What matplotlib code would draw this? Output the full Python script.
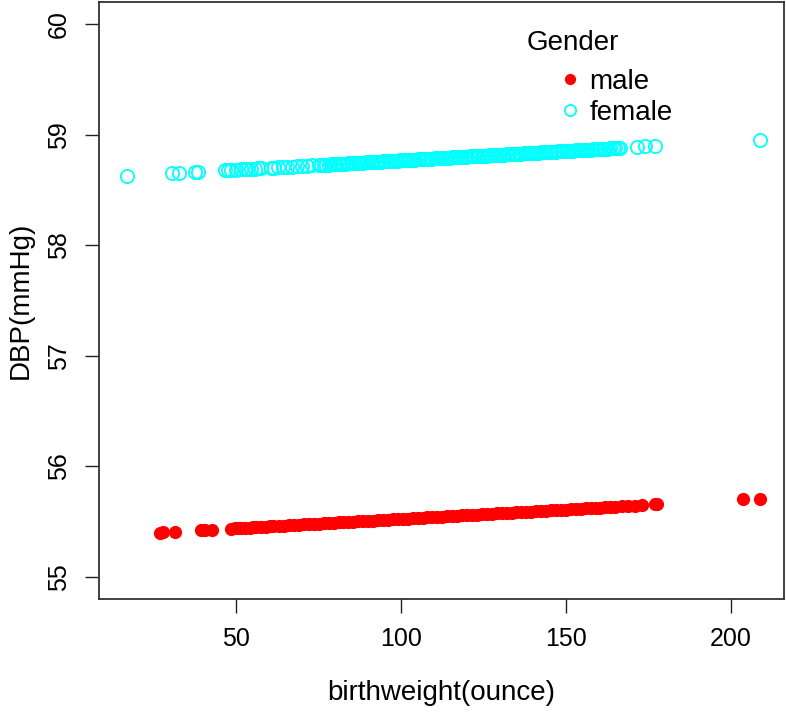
import matplotlib
matplotlib.use("Agg")
import matplotlib.pyplot as plt

# fitted DBP by birthweight, one series per gender
male_x = [26.8, 27.7, 31.3, 39.4, 40.6, 42.5,
          48.5, 49.5, 50.5, 51.5, 52.5, 54, 55, 56, 57.5, 59, 60.2, 61,
          63, 64.5, 66, 67.5, 69, 70.5, 72, 73.5,
          75, 76.5, 78, 79.5, 81, 82.5, 84, 85.5, 87, 88.5, 90, 91.5, 93, 94.5,
          96, 97.5, 99, 100.5, 102, 103.5, 105, 106.5, 108, 109.5, 111, 112.5,
          114, 115.5, 117, 118.5, 120, 121.5, 123, 124.5, 126, 127.5, 129, 130.5,
          132, 133.5, 135, 136.5, 138, 139.5, 141, 142.5, 144, 145.5, 147, 148.5,
          150, 151.5, 153, 154.5, 156, 157.5, 159, 160.5, 162, 163.5, 165,
          167, 169, 171, 173, 177, 177.6, 203.8, 209]
male_y = [55.400, 55.402, 55.408, 55.422, 55.424, 55.427,
          55.437, 55.439, 55.441, 55.442, 55.444, 55.446, 55.448, 55.450, 55.452,
          55.455, 55.457, 55.458,
          55.462, 55.464, 55.467, 55.469, 55.472, 55.474, 55.477, 55.480,
          55.482, 55.485, 55.487, 55.490, 55.492, 55.495, 55.497, 55.500, 55.502,
          55.505, 55.507, 55.510, 55.513, 55.515, 55.518, 55.520, 55.523, 55.525,
          55.528, 55.530, 55.533, 55.535, 55.538, 55.540, 55.543, 55.546, 55.548,
          55.551, 55.553, 55.556, 55.558, 55.561, 55.563, 55.566, 55.568, 55.571,
          55.574, 55.576, 55.579, 55.581, 55.584, 55.586, 55.589, 55.591, 55.594,
          55.596, 55.599, 55.601, 55.604, 55.607, 55.609, 55.612, 55.614, 55.617,
          55.619, 55.622, 55.624, 55.627, 55.629, 55.632, 55.635,
          55.638, 55.641, 55.645, 55.648, 55.655, 55.656, 55.700, 55.709]

female_x = [16.7, 30.6, 32.6, 37.4, 38.4,
            46.5, 47.5, 48.5, 50.0, 51.5, 52.5, 53.2, 54.5, 55.5, 56.5, 57.5,
            60.5, 61.5, 62.5, 64, 65.5, 67, 68.5, 70, 71.5, 73,
            75, 76.5, 78, 79.5, 81, 82.5, 84, 85.5, 87, 88.5, 90, 91.5, 93, 94.5,
            96, 97.5, 99, 100.5, 102, 103.5, 105, 106.5, 108, 109.5, 111, 112.5,
            114, 115.5, 117, 118.5, 120, 121.5, 123, 124.5, 126, 127.5, 129, 130.5,
            132, 133.5, 135, 136.5, 138, 139.5, 141, 142.5, 144, 145.5, 147, 148.5,
            150, 151.5, 153, 154.5, 156, 157.5, 159, 160.5, 162, 163.5, 165, 166.5,
            171.6, 174, 177, 209,
            75.75, 77.25, 78.75, 80.25, 81.75, 83.25, 84.75, 86.25, 87.75, 89.25,
            90.75, 92.25, 93.75, 95.25, 96.75, 98.25, 99.75, 101.25, 102.75, 104.25,
            105.75, 107.25, 108.75, 110.25, 111.75, 113.25, 114.75, 116.25, 117.75,
            119.25, 120.75, 122.25, 123.75, 125.25, 126.75, 128.25, 129.75, 131.25,
            132.75, 134.25, 135.75, 137.25, 138.75, 140.25, 141.75, 143.25, 144.75,
            146.25, 147.75, 149.25, 150.75, 152.25, 153.75, 155.25, 156.75, 158.25,
            159.75, 161.25, 162.75, 164.25, 165.75]
female_y = [58.626, 58.650, 58.653, 58.661, 58.663,
            58.677, 58.678, 58.680, 58.683, 58.685, 58.687, 58.688, 58.690, 58.692,
            58.694, 58.695,
            58.700, 58.702, 58.704, 58.706, 58.709, 58.711, 58.714, 58.717, 58.719,
            58.722,
            58.725, 58.728, 58.730, 58.733, 58.735, 58.738, 58.740, 58.743, 58.745,
            58.748, 58.750, 58.753, 58.756, 58.758, 58.761, 58.763, 58.766, 58.768,
            58.771, 58.773, 58.776, 58.778, 58.781, 58.784, 58.786, 58.789, 58.791,
            58.794, 58.796, 58.799, 58.801, 58.804, 58.806, 58.809, 58.811, 58.814,
            58.817, 58.819, 58.822, 58.824, 58.827, 58.829, 58.832, 58.834, 58.837,
            58.839, 58.842, 58.844, 58.847, 58.850, 58.852, 58.855, 58.857, 58.860,
            58.862, 58.865, 58.867, 58.870, 58.872, 58.875, 58.878, 58.880,
            58.889, 58.893, 58.898, 58.952,
            58.726, 58.729, 58.731, 58.734, 58.736, 58.739, 58.742, 58.744, 58.747,
            58.749, 58.752, 58.754, 58.757, 58.759, 58.762, 58.764, 58.767, 58.770,
            58.772, 58.775, 58.777, 58.780, 58.782, 58.785, 58.787, 58.790, 58.792,
            58.795, 58.797, 58.800, 58.803, 58.805, 58.808, 58.810, 58.813, 58.815,
            58.818, 58.820, 58.823, 58.825, 58.828, 58.831, 58.833, 58.836, 58.838,
            58.841, 58.843, 58.846, 58.848, 58.851, 58.853, 58.856, 58.858, 58.861,
            58.864, 58.866, 58.869, 58.871, 58.874, 58.876, 58.879]

x_ticks = [50, 100, 150, 200]
y_ticks = [55, 56, 57, 58, 59, 60]

plt.rcParams['font.family'] = ['Liberation Sans', 'DejaVu Sans']

fig = plt.figure(figsize=(7.86, 7.18), dpi=100)
ax = fig.add_axes([99/786, 119/718, 685/786, 597/718])

ax.plot(male_x, male_y, 'o', color='red', markersize=9.5, markeredgewidth=0,
        linestyle='none', label='male')
ax.plot(female_x, female_y, 'o', markerfacecolor='none', markeredgecolor='cyan',
        markersize=9.5, markeredgewidth=1.3, linestyle='none', label='female')

ax.set_xlim(8.3, 216.2)
ax.set_ylim(54.8, 60.2)
ax.set_xticks(x_ticks)
ax.set_yticks(y_ticks)
ax.set_xticklabels([str(v) for v in x_ticks], fontsize=18)
ax.set_yticklabels([str(v) for v in y_ticks], fontsize=18,
                   rotation=90, va='center')
ax.tick_params(length=10, width=1, color='#222222', pad=10)
for s in ax.spines.values():
    s.set_color('#333333')
    s.set_linewidth(1.3)

ax.set_xlabel('birthweight(ounce)', fontsize=20, labelpad=21)
ax.set_ylabel('DBP(mmHg)', fontsize=20, labelpad=10)

leg = ax.legend(loc='upper left', bbox_to_anchor=(0.6715, 0.888), frameon=False,
                fontsize=20, handlelength=0.8, handletextpad=0.29,
                borderpad=0, borderaxespad=0, labelspacing=0.17, markerscale=0.85)
ax.text(0.625, 0.932, 'Gender', transform=ax.transAxes, fontsize=20,
        ha='left', va='center')

fig.savefig('out.png', dpi=100)
